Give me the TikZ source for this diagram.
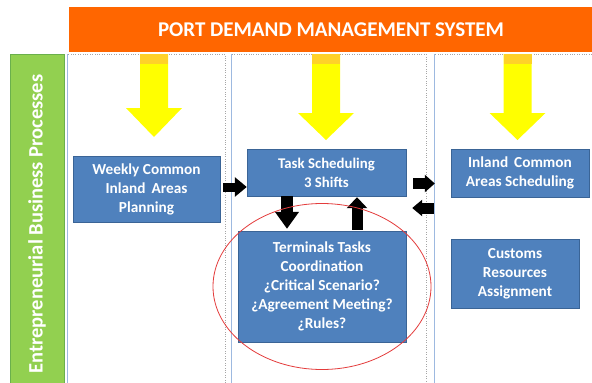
\documentclass[tikz,border=0pt]{standalone}
\usepackage{fontspec}
\setmainfont{Carlito}
\usepackage{xcolor}
\definecolor{portorange}{RGB}{255,102,0}
\definecolor{procgreen}{RGB}{146,208,80}
\definecolor{procgreenline}{RGB}{106,176,76}
\definecolor{taskblue}{RGB}{79,129,189}
\definecolor{taskblueline}{RGB}{58,100,150}
\definecolor{colline}{RGB}{157,185,224}
\definecolor{flowyellow}{RGB}{255,255,0}
\definecolor{flowtop}{RGB}{255,210,40}
\definecolor{ringred}{RGB}{228,60,60}
\usepackage{tikz}
\usetikzlibrary{arrows.meta,positioning,calc}

\begin{document}
\begin{tikzpicture}[x=1pt,y=-1pt,
        taskbox/.style={draw=taskblueline, fill=taskblue, text=white, align=center,
                        font=\fontsize{15.3}{19}\selectfont\bfseries, inner sep=2pt},
        blk/.style={draw=black, line width=#1},
        blk/.default=11pt]
        \useasboundingbox (0,0) rectangle (592,383);                            % Umgebung
        \fill[white] (0,0) rectangle (592,383);                                 % Hintergrund
        \node[fill=portorange, text=white, minimum width=525pt, minimum height=45pt,
              font=\fontsize{21}{24}\selectfont\bfseries] (title) at (331,29.5)
              {PORT DEMAND MANAGEMENT SYSTEM};                                  % Titelbalken
        \node[draw=procgreenline, line width=1pt, fill=procgreen, text=white, rotate=90,
              minimum width=340pt, minimum height=54pt,
              font=\fontsize{20.5}{24}\selectfont\bfseries] (ebp) at (37,224)
              {Entrepreneurial Business Processes};                             % Prozessbalken
        \foreach \xl/\xr in {67/225, 231/426, 434/598} {
            \draw[dotted, gray!70] (\xl,54) rectangle (\xr,390);                % Spalte
            \draw[colline, thin] (\xl,54) -- (\xl,390);                         % linke Kante
        }
        \foreach \cx/\hb/\tp in {154/108/137, 326/113/140, 517.5/113/140} {
            \fill[flowyellow] (\cx-14,54) -- (\cx+14,54) -- (\cx+14,\hb) -- (\cx+28,\hb)
                -- (\cx,\tp) -- (\cx-28,\hb) -- (\cx-14,\hb) -- cycle;          % gelber Pfeil
            \fill[flowtop] (\cx-14,54) rectangle (\cx+14,64);                   % Pfeilkopf oben
        }
        \node[taskbox, minimum width=147pt, minimum height=66pt] (wca) at (146.5,189)
              {Weekly Common\\Inland\, Areas\\Planning};
        \node[taskbox, minimum width=159pt, minimum height=47pt,
              font=\fontsize{14.8}{19}\selectfont\bfseries] (tss) at (326.5,172.5)
              {Task Scheduling\\3 Shifts};
        \node[taskbox, minimum width=138pt, minimum height=48pt] (ics) at (520,173)
              {Inland\, Common\\Areas Scheduling};
        \node[taskbox, minimum width=168pt, minimum height=111pt] (ttc) at (322,286.5)
              {Terminals Tasks\\Coordination\\¿Critical Scenario?\\¿Agreement Meeting?\\¿Rules?};
        \node[taskbox, minimum width=128pt, minimum height=69pt] (cra) at (515,273.5)
              {Customs\\Resources\\Assignment};
        \draw[blk=9pt, -{Triangle[length=12pt,width=19pt]}]
              ([xshift=3pt,yshift=2pt]wca.east) -- ([yshift=2pt]wca.east -| tss.west);   % wca -> tss
        \draw[blk, -{Triangle[length=10pt,width=17pt]}]
              ([xshift=7pt,yshift=-11pt]tss.east) -- ([xshift=-16pt,yshift=-10.5pt]ics.west); % tss -> ics
        \draw[blk, -{Triangle[length=10pt,width=16pt]}]
              ([xshift=-17pt,yshift=-35pt]ics.west) -- ([xshift=6pt,yshift=-35.5pt]tss.east); % ics -> tss
        \draw[blk=12pt, -{Triangle[length=17pt,width=23pt]}]
              ([xshift=-39.5pt]tss.south) -- ([xshift=-39.5pt,yshift=2pt]tss.south |- ttc.north); % tss -> ttc
        \draw[blk, -{Triangle[length=11pt,width=20pt]}]
              ([xshift=30.5pt,yshift=1pt]tss.south |- ttc.north) -- ([xshift=30.5pt,yshift=-1pt]tss.south); % ttc -> tss
        \draw[ringred, line width=0.8pt] (ttc.center) ellipse [x radius=109pt, y radius=83pt]; % Markierung
    \end{tikzpicture}
\end{document}
